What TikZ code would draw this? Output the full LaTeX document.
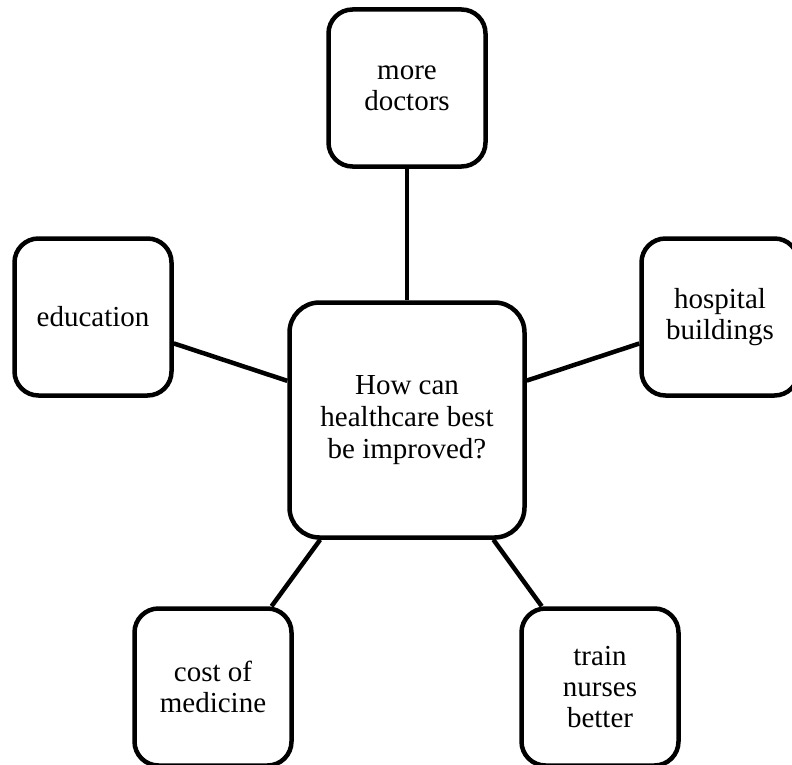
\documentclass[tikz,border=0pt]{standalone}
\usepackage{fontspec}
\setmainfont{Liberation Serif}
\tikzset{every picture/.style={line width=4.5pt}}
\tikzset{
  idea/.style={draw, rectangle, rounded corners=24pt, minimum width=157pt, minimum height=157pt, align=center, font=\fontsize{29}{31}\selectfont, inner sep=0pt},
  hubbox/.style={idea, rounded corners=30pt, minimum width=235pt, minimum height=235pt, font=\fontsize{29}{32}\selectfont},
  spoke/.style={line width=4.5pt}
}
\begin{document}
\begin{tikzpicture}[x=1pt,y=1pt,yscale=-1,xscale=1]
			\useasboundingbox (0,0) rectangle (792,765);
			%Shape: Rounded Rect [id:hub]
			\node[hubbox] (hub) at (407,420) {How can\\healthcare best\\be improved?};
			%Shape: Rounded Rect [id:doctors]
			\node[idea] (doctors) at (407,88) {more\\doctors};
			%Shape: Rounded Rect [id:education]
			\node[idea] (education) at (93,317) {education};
			%Shape: Rounded Rect [id:buildings]
			\node[idea] (buildings) at (720,317) {hospital\\buildings};
			%Shape: Rounded Rect [id:medicine]
			\node[idea] (medicine) at (213,687) {cost of\\medicine};
			%Shape: Rounded Rect [id:nurses]
			\node[idea] (nurses) at (600,687) {train\\nurses\\better};

			%Straight Lines
			\draw[spoke] (hub) -- (doctors);
			\draw[spoke] (hub) -- (education);
			\draw[spoke] (hub) -- (buildings);
			\draw[spoke] (hub) -- (medicine);
			\draw[spoke] (hub) -- (nurses);
		\end{tikzpicture}
\end{document}
